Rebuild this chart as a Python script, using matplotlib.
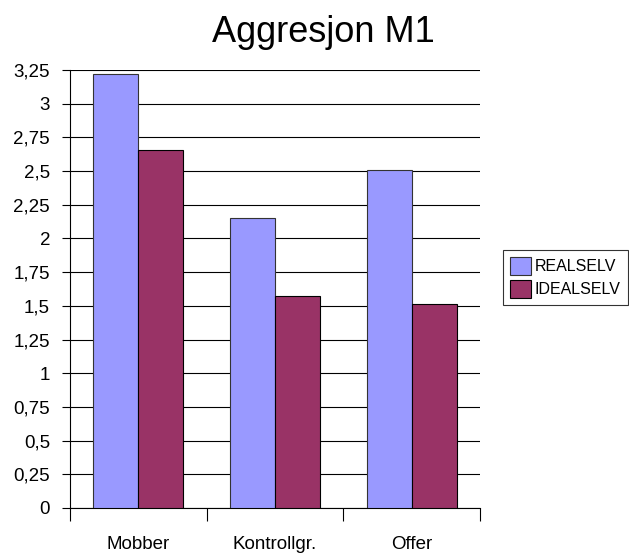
import matplotlib.pyplot as plt
import numpy as np
from matplotlib.ticker import FuncFormatter, MultipleLocator

plt.rcParams['font.family'] = ['Liberation Sans', 'DejaVu Sans']

categories = ['Mobber', 'Kontrollgr.', 'Offer']
realselv = [3.22, 2.15, 2.51]
idealselv = [2.66, 1.57, 1.51]

fig = plt.figure(figsize=(6.29, 5.53), dpi=100)
ax = fig.add_axes([0.1113, 0.0814, 0.6518, 0.792])

x = np.arange(len(categories))
w = 0.33
ax.bar(x - w / 2, realselv, w, color='#9999FF', edgecolor='#333333', linewidth=0.8,
       label='REALSELV', zorder=3)
ax.bar(x + w / 2, idealselv, w, color='#993366', edgecolor='black', linewidth=0.8,
       label='IDEALSELV', zorder=3)

ax.set_xlim(-0.5, 2.5)
ax.set_ylim(0, 3.25)
ax.yaxis.set_major_locator(MultipleLocator(0.25))
ax.yaxis.set_major_formatter(FuncFormatter(lambda v, p: f'{v:g}'.replace('.', ',')))
ax.grid(axis='y', color='black', linewidth=0.8, zorder=0)

# category labels centred, tick marks at group boundaries
ax.set_xticks([-0.5, 0.5, 1.5, 2.5])
ax.set_xticklabels([])
ax.set_xticks(x, minor=True)
ax.set_xticklabels(categories, minor=True)
ax.tick_params(axis='x', which='major', length=9, direction='out', width=0.8)
ax.tick_params(axis='x', which='minor', length=0, pad=20, labelsize=13.5)
ax.tick_params(axis='y', length=6, direction='out', width=0.8, labelsize=13.5, pad=8.4)

for s in ['top', 'right']:
    ax.spines[s].set_visible(False)
ax.spines['left'].set_linewidth(0.8)
ax.spines['bottom'].set_linewidth(0.8)

fig.text(0.514, 1 - 42 / 553, 'Aggresjon M1', ha='center', va='baseline', fontsize=26)

leg = fig.legend(*ax.get_legend_handles_labels(), loc='upper left',
                 bbox_to_anchor=(503 / 629, 1 - 250 / 553), frameon=True,
                 fancybox=False, edgecolor='black', fontsize=11.5,
                 handlelength=1.3, handleheight=1.3, handletextpad=0.25,
                 borderpad=0.45, labelspacing=0.35, borderaxespad=0)
leg.get_frame().set_linewidth(0.8)

fig.savefig('out.png', dpi=100)
